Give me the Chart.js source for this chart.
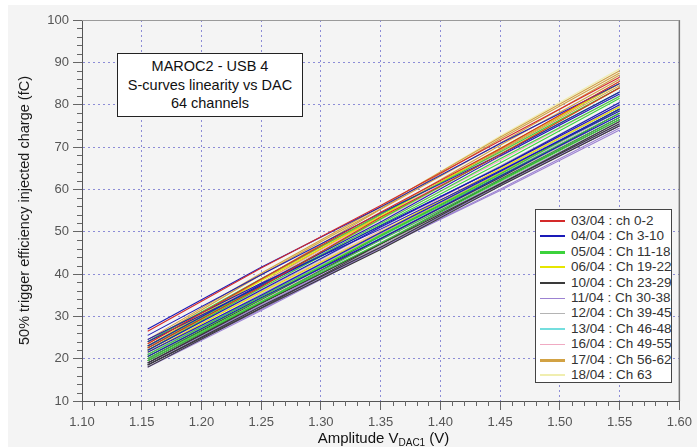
<!DOCTYPE html>
<html>
<head>
<meta charset="utf-8">
<script src="https://cdn.jsdelivr.net/npm/chart.js@4.4.0/dist/chart.umd.min.js"></script>
<style>
  html, body { margin: 0; padding: 0; background: #ffffff; }
  #wrap { position: relative; width: 697px; height: 447px; overflow: hidden; font-family: "Liberation Sans", Arial, sans-serif; }
  #panel { position: absolute; left: 8px; top: 5px; right: 0; bottom: 0; background: #f4f4f4; }
  #chart { position: absolute; left: 0; top: 0; }
  #note { position: absolute; left: 117px; top: 53px; width: 184px; height: 59px; background: #fff; border: 1px solid #222;
          text-align: center; font-size: 14.5px; line-height: 18.5px; color: #111; padding-top: 3px; box-sizing: content-box; }
  #legend { position: absolute; left: 535px; top: 209px; width: 135px; height: 172px; background: #fff; border: 1px solid #444; }
  .row { position: absolute; left: 0; height: 16px; width: 135px; font-size: 13.5px; color: #333; line-height: 16px; white-space: nowrap; }
  .swatch { position: absolute; left: 4px; width: 25px; }
  .txt { position: absolute; left: 35px; top: 0; }
  #xtitle { position: absolute; left: 0; width: 767px; top: 429px; text-align: center; font-size: 15px; color: #111; }
  #xtitle sub { font-size: 10px; vertical-align: -3px; line-height: 0; }
</style>
</head>
<body>
<div id="wrap">
  <div id="panel"></div>
  <canvas id="chart" width="697" height="447"></canvas>
  <div id="note">MAROC2 - USB 4<br>S-curves linearity vs DAC<br>64 channels</div>
  <div id="legend"></div>
  <div id="xtitle">Amplitude V<sub>DAC1</sub> (V)</div>
</div>
<script>
// DAC amplitude (V) at which each channel was sampled
const xValues = [1.155, 1.25, 1.35, 1.45, 1.55];

// 50% trigger charge (fC), one row per channel
const ch0304 = [
  [26.5, 41.4, 56.2, 71.5, 86.5],
  [23.5, 38.8, 54.6, 69.6, 85.5],
  [22.5, 37.0, 53.4, 68.2, 84.0]
];
const ch0404 = [
  [27.0, 41.6, 55.8, 70.8, 85.0],
  [25.5, 39.8, 54.4, 68.2, 83.0],
  [24.0, 37.2, 51.4, 65.2, 80.0],
  [23.0, 37.6, 52.3, 67.9, 82.5],
  [21.5, 35.0, 49.8, 64.2, 79.0],
  [20.5, 34.4, 48.3, 63.1, 77.5],
  [24.5, 37.8, 50.6, 64.4, 78.5],
  [22.0, 36.2, 51.1, 65.3, 80.5]
];
const ch0504 = [
  [24.0, 38.9, 54.1, 68.8, 84.0],
  [23.0, 37.4, 53.0, 68.3, 83.0],
  [22.5, 37.2, 51.9, 67.2, 82.0],
  [22.0, 36.7, 51.6, 66.2, 81.5],
  [20.0, 33.5, 48.0, 62.2, 77.0],
  [19.5, 33.4, 47.3, 61.9, 76.5],
  [21.0, 34.7, 49.0, 63.2, 78.0],
  [20.5, 34.1, 49.2, 63.6, 79.0]
];
const ch0604 = [
  [23.0, 38.4, 53.6, 69.7, 85.0],
  [22.0, 36.9, 53.1, 68.3, 84.0],
  [21.5, 35.7, 49.9, 64.8, 79.5],
  [20.5, 34.2, 49.3, 63.8, 79.0]
];
const ch1004 = [
  [18.0, 31.9, 45.8, 60.8, 75.0],
  [18.5, 32.0, 47.1, 61.2, 76.0],
  [19.0, 33.2, 47.1, 62.3, 77.0],
  [19.5, 33.3, 48.4, 62.8, 78.0],
  [18.5, 32.4, 46.3, 61.3, 75.5],
  [20.0, 34.0, 49.0, 63.7, 79.0],
  [19.0, 33.0, 47.2, 62.1, 76.5]
];
const ch1104 = [
  [18.0, 31.4, 46.1, 60.0, 74.5],
  [18.5, 32.3, 46.2, 60.9, 75.0],
  [19.0, 32.5, 47.4, 61.4, 76.0],
  [18.0, 32.0, 46.2, 61.1, 75.5],
  [19.5, 33.1, 48.1, 62.2, 77.0],
  [20.0, 34.2, 48.4, 63.3, 78.0],
  [18.5, 31.6, 46.1, 59.7, 74.0],
  [21.0, 34.8, 49.6, 63.9, 79.0],
  [19.0, 32.7, 46.4, 61.0, 75.0]
];
const ch1204 = [
  [19.0, 33.2, 47.4, 62.5, 77.0],
  [20.0, 33.9, 49.1, 63.5, 78.5],
  [18.5, 32.5, 46.7, 61.6, 76.0],
  [21.0, 35.3, 49.5, 64.5, 79.5],
  [19.5, 33.3, 48.3, 62.6, 77.5],
  [20.5, 34.8, 49.3, 64.5, 79.5],
  [22.0, 36.0, 50.9, 65.5, 80.5]
];
const ch1304 = [
  [20.0, 34.3, 48.4, 63.1, 78.0],
  [21.0, 34.8, 49.6, 64.1, 79.0],
  [20.5, 34.0, 48.7, 62.9, 77.5]
];
const ch1604 = [
  [21.0, 35.3, 49.8, 65.0, 80.0],
  [22.0, 36.4, 52.1, 66.8, 82.0],
  [20.0, 34.4, 48.9, 64.1, 79.0],
  [22.5, 37.1, 52.8, 67.7, 83.0],
  [19.5, 33.8, 48.2, 63.2, 78.0],
  [23.0, 37.7, 53.5, 68.6, 84.0],
  [21.5, 35.8, 50.3, 65.5, 79.5]
];
const ch1704 = [
  [24.0, 39.8, 55.4, 71.9, 87.5],
  [23.5, 38.7, 55.3, 70.9, 87.0],
  [23.0, 38.6, 54.1, 70.4, 86.0],
  [22.5, 37.7, 54.0, 69.5, 85.5],
  [24.5, 40.2, 55.9, 72.3, 88.0],
  [22.0, 37.4, 52.9, 69.1, 84.5],
  [23.0, 37.9, 54.0, 69.3, 85.0]
];
const ch1804 = [
  [24.0, 39.9, 55.8, 72.6, 88.5]
];

const groupLabels = ['03/04 : ch 0-2', '04/04 : Ch 3-10', '05/04 : Ch 11-18', '06/04 : Ch 19-22',
  '10/04 : Ch 23-29', '11/04 : Ch 30-38', '12/04 : Ch 39-45', '13/04 : Ch 46-48',
  '16/04 : Ch 49-55', '17/04 : Ch 56-62', '18/04 : Ch 63'];
const groupChannels = [ch0304, ch0404, ch0504, ch0604, ch1004, ch1104, ch1204, ch1304, ch1604, ch1704, ch1804];

const xTicks = [1.10, 1.15, 1.20, 1.25, 1.30, 1.35, 1.40, 1.45, 1.50, 1.55, 1.60];
const yTicks = [10, 20, 30, 40, 50, 60, 70, 80, 90, 100];

// styling
const groupColors = ['#d42a2a', '#1a1ab8', '#3cd23c', '#e6e600', '#3a3a3a', '#9c82d2',
  '#b4b4b4', '#74dede', '#f0aac2', '#d2a244', '#f0eeb0'];
const swatchWidths = [2, 2, 3, 2, 2, 1, 1, 2, 1, 3, 2];

const datasets = [];
groupChannels.forEach((chs, g) => {
  chs.forEach(vals => {
    datasets.push({
      label: groupLabels[g],
      data: xValues.map((x, i) => ({ x: x, y: vals[i] })),
      borderColor: groupColors[g],
      borderWidth: 1.1,
      pointRadius: 0,
      fill: false,
      tension: 0
    });
  });
});

// legend box
const legendEl = document.getElementById('legend');
groupLabels.forEach((lab, i) => {
  const row = document.createElement('div');
  row.className = 'row';
  row.style.top = (3 + i * 15.4) + 'px';
  const sw = document.createElement('div');
  sw.className = 'swatch';
  sw.style.height = swatchWidths[i] + 'px';
  sw.style.top = (8 - Math.floor(swatchWidths[i] / 2)) + 'px';
  sw.style.background = groupColors[i];
  const t = document.createElement('div');
  t.className = 'txt';
  t.textContent = lab;
  row.appendChild(sw);
  row.appendChild(t);
  legendEl.appendChild(row);
});

const minorTicks = {
  id: 'minorTicks',
  afterDraw(chart) {
    const { ctx, chartArea: a, scales } = chart;
    ctx.save();
    ctx.strokeStyle = '#666';
    ctx.lineWidth = 1;
    ctx.beginPath();
    for (let i = 110; i <= 160; i++) {
      if (i % 5 === 0) continue;
      const px = Math.round(scales.x.getPixelForValue(i / 100)) + 0.5;
      ctx.moveTo(px, a.bottom);
      ctx.lineTo(px, a.bottom + 5);
    }
    for (let v = 10; v <= 100; v += 2) {
      if (v % 10 === 0) continue;
      const py = Math.round(scales.y.getPixelForValue(v)) + 0.5;
      ctx.moveTo(a.left - 5, py);
      ctx.lineTo(a.left, py);
    }
    ctx.stroke();
    // right and top frame
    ctx.strokeStyle = '#777';
    ctx.lineWidth = 1.5;
    ctx.beginPath();
    ctx.moveTo(a.right, a.top);
    ctx.lineTo(a.right, a.bottom);
    ctx.stroke();
    ctx.strokeStyle = '#9a9a9a';
    ctx.lineWidth = 1;
    ctx.beginPath();
    ctx.moveTo(a.left, a.top + 0.5);
    ctx.lineTo(a.right, a.top + 0.5);
    ctx.stroke();
    ctx.restore();
  }
};

new Chart(document.getElementById('chart').getContext('2d'), {
  type: 'line',
  data: { datasets: datasets },
  options: {
    responsive: false,
    animation: false,
    layout: { padding: { left: 0, right: 12, top: 20, bottom: 0 } },
    plugins: { legend: { display: false }, tooltip: { enabled: false } },
    scales: {
      x: {
        type: 'linear',
        min: 1.10,
        max: 1.60,
        afterFit: s => { s.height = 46; },
        afterBuildTicks: s => { s.ticks = xTicks.map(v => ({ value: v })); },
        ticks: {
          autoSkip: false,
          maxRotation: 0,
          padding: 5,
          color: '#555',
          font: { family: 'Liberation Sans', size: 13 },
          callback: v => v.toFixed(2)
        },
        grid: { color: '#8c8cd6', lineWidth: 1, tickLength: 9, tickColor: '#666', tickBorderDash: [] },
        border: { color: '#555', width: 1, dash: [2, 3] }
      },
      y: {
        min: 10,
        max: 100,
        afterFit: s => { s.width = 82; },
        afterBuildTicks: s => { s.ticks = yTicks.map(v => ({ value: v })); },
        ticks: {
          padding: 4,
          color: '#555',
          font: { family: 'Liberation Sans', size: 13 }
        },
        grid: { color: '#8c8cd6', lineWidth: 1, tickLength: 9, tickColor: '#666', tickBorderDash: [] },
        border: { color: '#555', width: 1, dash: [2, 3] },
        title: {
          display: true,
          text: '50% trigger efficiency injected charge (fC)',
          color: '#1a1a1a',
          font: { family: 'Liberation Sans', size: 14.5 },
          padding: { top: 16, bottom: 0 }
        }
      }
    }
  },
  plugins: [minorTicks]
});
</script>
</body>
</html>
